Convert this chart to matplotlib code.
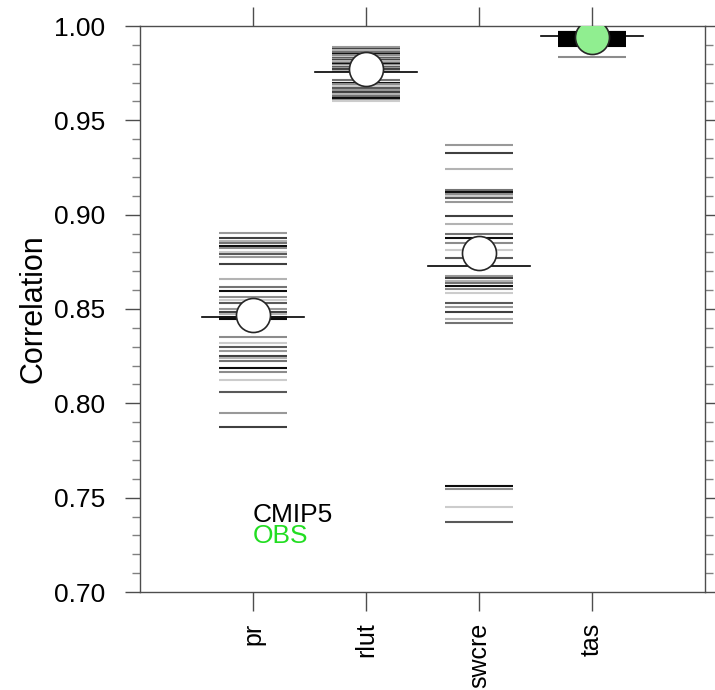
import matplotlib
matplotlib.use("Agg")
import matplotlib.pyplot as plt

plt.rcParams['font.family'] = ['Liberation Sans', 'DejaVu Sans']

categories = ["pr", "rlut", "swcre", "tas"]

pr_models = [0.8901, 0.8875, 0.8862, 0.8848, 0.8834, 0.8822, 0.8804, 0.8790, 0.8777,
             0.8737, 0.8657, 0.8618, 0.8595, 0.8562, 0.8548, 0.8530, 0.8498, 0.8486,
             0.8472, 0.8459, 0.8447, 0.8350, 0.8318, 0.8300, 0.8277, 0.8253, 0.8242,
             0.8224, 0.8186, 0.8168, 0.8124, 0.8058, 0.7947, 0.7873]
rlut_models = [0.9888, 0.9880, 0.9872, 0.9862, 0.9852, 0.9845, 0.9838, 0.9832, 0.9826,
               0.9820, 0.9812, 0.9806, 0.9800, 0.9794, 0.9788, 0.9782, 0.9776, 0.9770,
               0.9764, 0.9712, 0.9700, 0.9690, 0.9680, 0.9670, 0.9660, 0.9650, 0.9640,
               0.9630, 0.9620, 0.9610, 0.9600]
swcre_models = [0.9369, 0.9328, 0.9240, 0.9131, 0.9120, 0.9110, 0.9099, 0.9087, 0.9069,
                0.8993, 0.8949, 0.8896, 0.8875, 0.8848, 0.8813, 0.8772, 0.8675, 0.8663,
                0.8650, 0.8636, 0.8622, 0.8604, 0.8583, 0.8530, 0.8512, 0.8486, 0.8445,
                0.8427, 0.7562, 0.7548, 0.7448, 0.7372]
tas_models = [0.9970, 0.9966, 0.9962, 0.9958, 0.9954, 0.9950, 0.9946, 0.9942, 0.9938,
              0.9934, 0.9930, 0.9926, 0.9922, 0.9918, 0.9914, 0.9910, 0.9906, 0.9902,
              0.9898, 0.9895, 0.9834]
model_values = [pr_models, rlut_models, swcre_models, tas_models]

median_values = [0.8458, 0.9758, 0.8728, 0.9947]
mean_values = [0.8470, 0.9772, 0.8798, 0.9942]
obs_flags = [False, False, False, True]

legend_labels = ["CMIP5", "OBS"]

grays = ['0.6', '0.25', '0.7', '0.45', '0.05', '0.55', '0.8', '0.35']

fig = plt.figure(figsize=(7.15, 6.90), dpi=100)
ax = fig.add_axes([140/715, 1-592/690, 565/715, 566/690])

for i, vals in enumerate(model_values):
    xc = i + 1
    for j, v in enumerate(vals):
        c = grays[j % len(grays)]
        if i == 3 and j < len(vals) - 1:
            c = '0.0'
        if i == 3 and j == len(vals) - 1:
            c = '0.55'
        ax.plot([xc - 0.3, xc + 0.3], [v, v], color=c, lw=1.5, solid_capstyle='butt', zorder=2)
    ax.plot([xc - 0.45, xc + 0.45], [median_values[i], median_values[i]],
            color='black', lw=1.2, zorder=3)
    face = '#90ee90' if obs_flags[i] else 'white'
    ax.plot([xc], [mean_values[i]], 'o', ms=24.5, mfc=face, mec='0.15', mew=1.2, zorder=4,
            clip_on=True)

ax.set_xlim(0, 5)
ax.set_ylim(0.70, 1.00)
ax.set_xticks([1, 2, 3, 4])
ax.set_xticklabels(categories, rotation=90, fontsize=18)
ax.set_yticks([0.70, 0.75, 0.80, 0.85, 0.90, 0.95, 1.00])
ax.set_yticklabels(["0.70", "0.75", "0.80", "0.85", "0.90", "0.95", "1.00"], fontsize=19)
ax.set_yticks([0.70 + 0.01 * k for k in range(31) if k % 5 != 0], minor=True)
ax.tick_params(axis='y', which='major', direction='out', length=11, width=1, color='0.3',
               left=True, right=True, pad=14)
ax.tick_params(axis='y', which='minor', direction='out', length=6, width=1, color='0.5',
               left=True, right=True)
ax.tick_params(axis='x', which='major', direction='out', length=14, width=1, color='0.3',
               top=True, bottom=True, pad=8)
for s in ax.spines.values():
    s.set_color('0.3')
    s.set_linewidth(1.0)
ax.set_ylabel("Correlation", fontsize=22, labelpad=4)

ax.text(1.0, 0.741, legend_labels[0], fontsize=19, color='black', ha='left', va='center')
ax.text(1.0, 0.7295, legend_labels[1], fontsize=19, color='#22dd22', ha='left', va='center')

fig.savefig("out.png", dpi=100)
